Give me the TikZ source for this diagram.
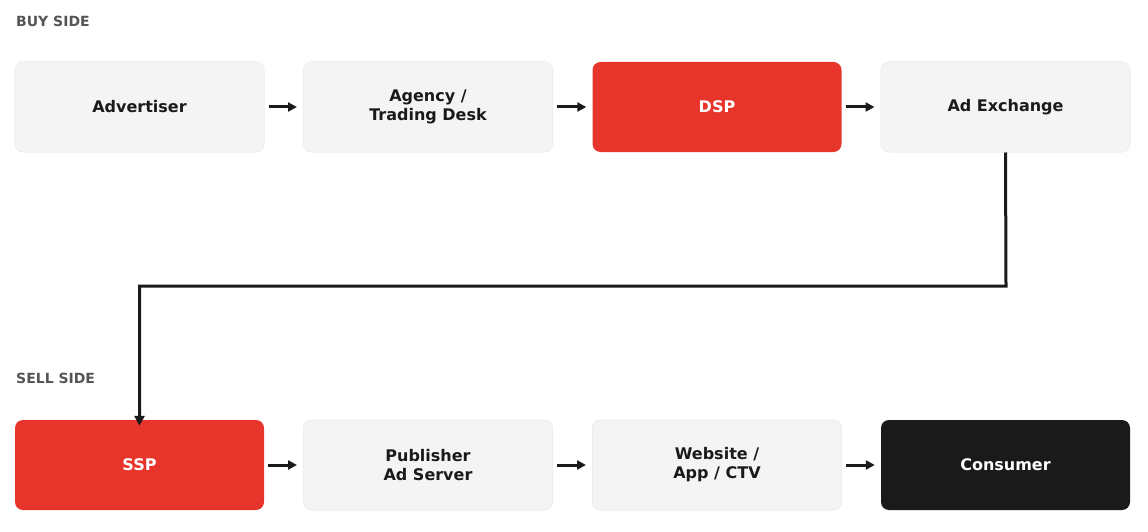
\documentclass[tikz,border=0pt]{standalone}
\usepackage{fontspec}
\setmainfont{DejaVu Sans}
\usetikzlibrary{arrows.meta}
\definecolor{lite}{HTML}{F4F4F4}
\definecolor{litebd}{HTML}{EDEDED}
\definecolor{red}{HTML}{E8352C}
\definecolor{dark}{HTML}{1A1A1A}
\definecolor{grayt}{HTML}{555555}
\tikzset{
 box/.style={minimum width=249pt,minimum height=90pt,rounded corners=8pt,align=center,font=\fontsize{16}{19}\selectfont\bfseries,inner sep=0pt},
 litebox/.style={box,fill=lite,draw=litebd,line width=1pt,text=dark},
 redbox/.style={box,fill=red,text=white},
 darkbox/.style={box,fill=dark,text=white},
 arr/.style={-{Triangle[length=9pt,width=9pt]},line width=3pt,draw=dark},
 side/.style={font=\fontsize{14}{16}\selectfont\bfseries,text=grayt,anchor=west,inner sep=0pt}
}
\begin{document}
\begin{tikzpicture}[x=1pt,y=-1pt]
\useasboundingbox (0,0) rectangle (1148,532);
\node[side] (buy) at (16,21) {BUY SIDE};
\node[side] (sell) at (16,378) {SELL SIDE};
\node[litebox] (adv) at (139.5,107) {Advertiser};
\node[litebox] (ag) at (428,107) {Agency /\\Trading Desk};
\node[redbox] (dsp) at (717,107) {DSP};
\node[litebox] (ax) at (1005.5,107) {Ad Exchange};
\node[redbox] (ssp) at (139.5,465) {SSP};
\node[litebox] (pub) at (428,465) {Publisher\\Ad Server};
\node[litebox] (web) at (717,465) {Website /\\App / CTV};
\node[darkbox] (con) at (1005.5,465) {Consumer};
\foreach \a/\b in {adv/ag,ag/dsp,dsp/ax,ssp/pub,pub/web,web/con}
  \draw[arr] ([xshift=4pt]\a.east) -- ([xshift=-6pt]\b.west);
\coordinate (c1) at (1006,286);
\coordinate (c2) at (139.5,286);
\draw[line width=3pt,draw=dark,-{Triangle[length=10pt,width=10pt]}] (ax.south) -- (c1) -- (c2) -- ([yshift=-6pt]ssp.north);
\end{tikzpicture}
\end{document}
